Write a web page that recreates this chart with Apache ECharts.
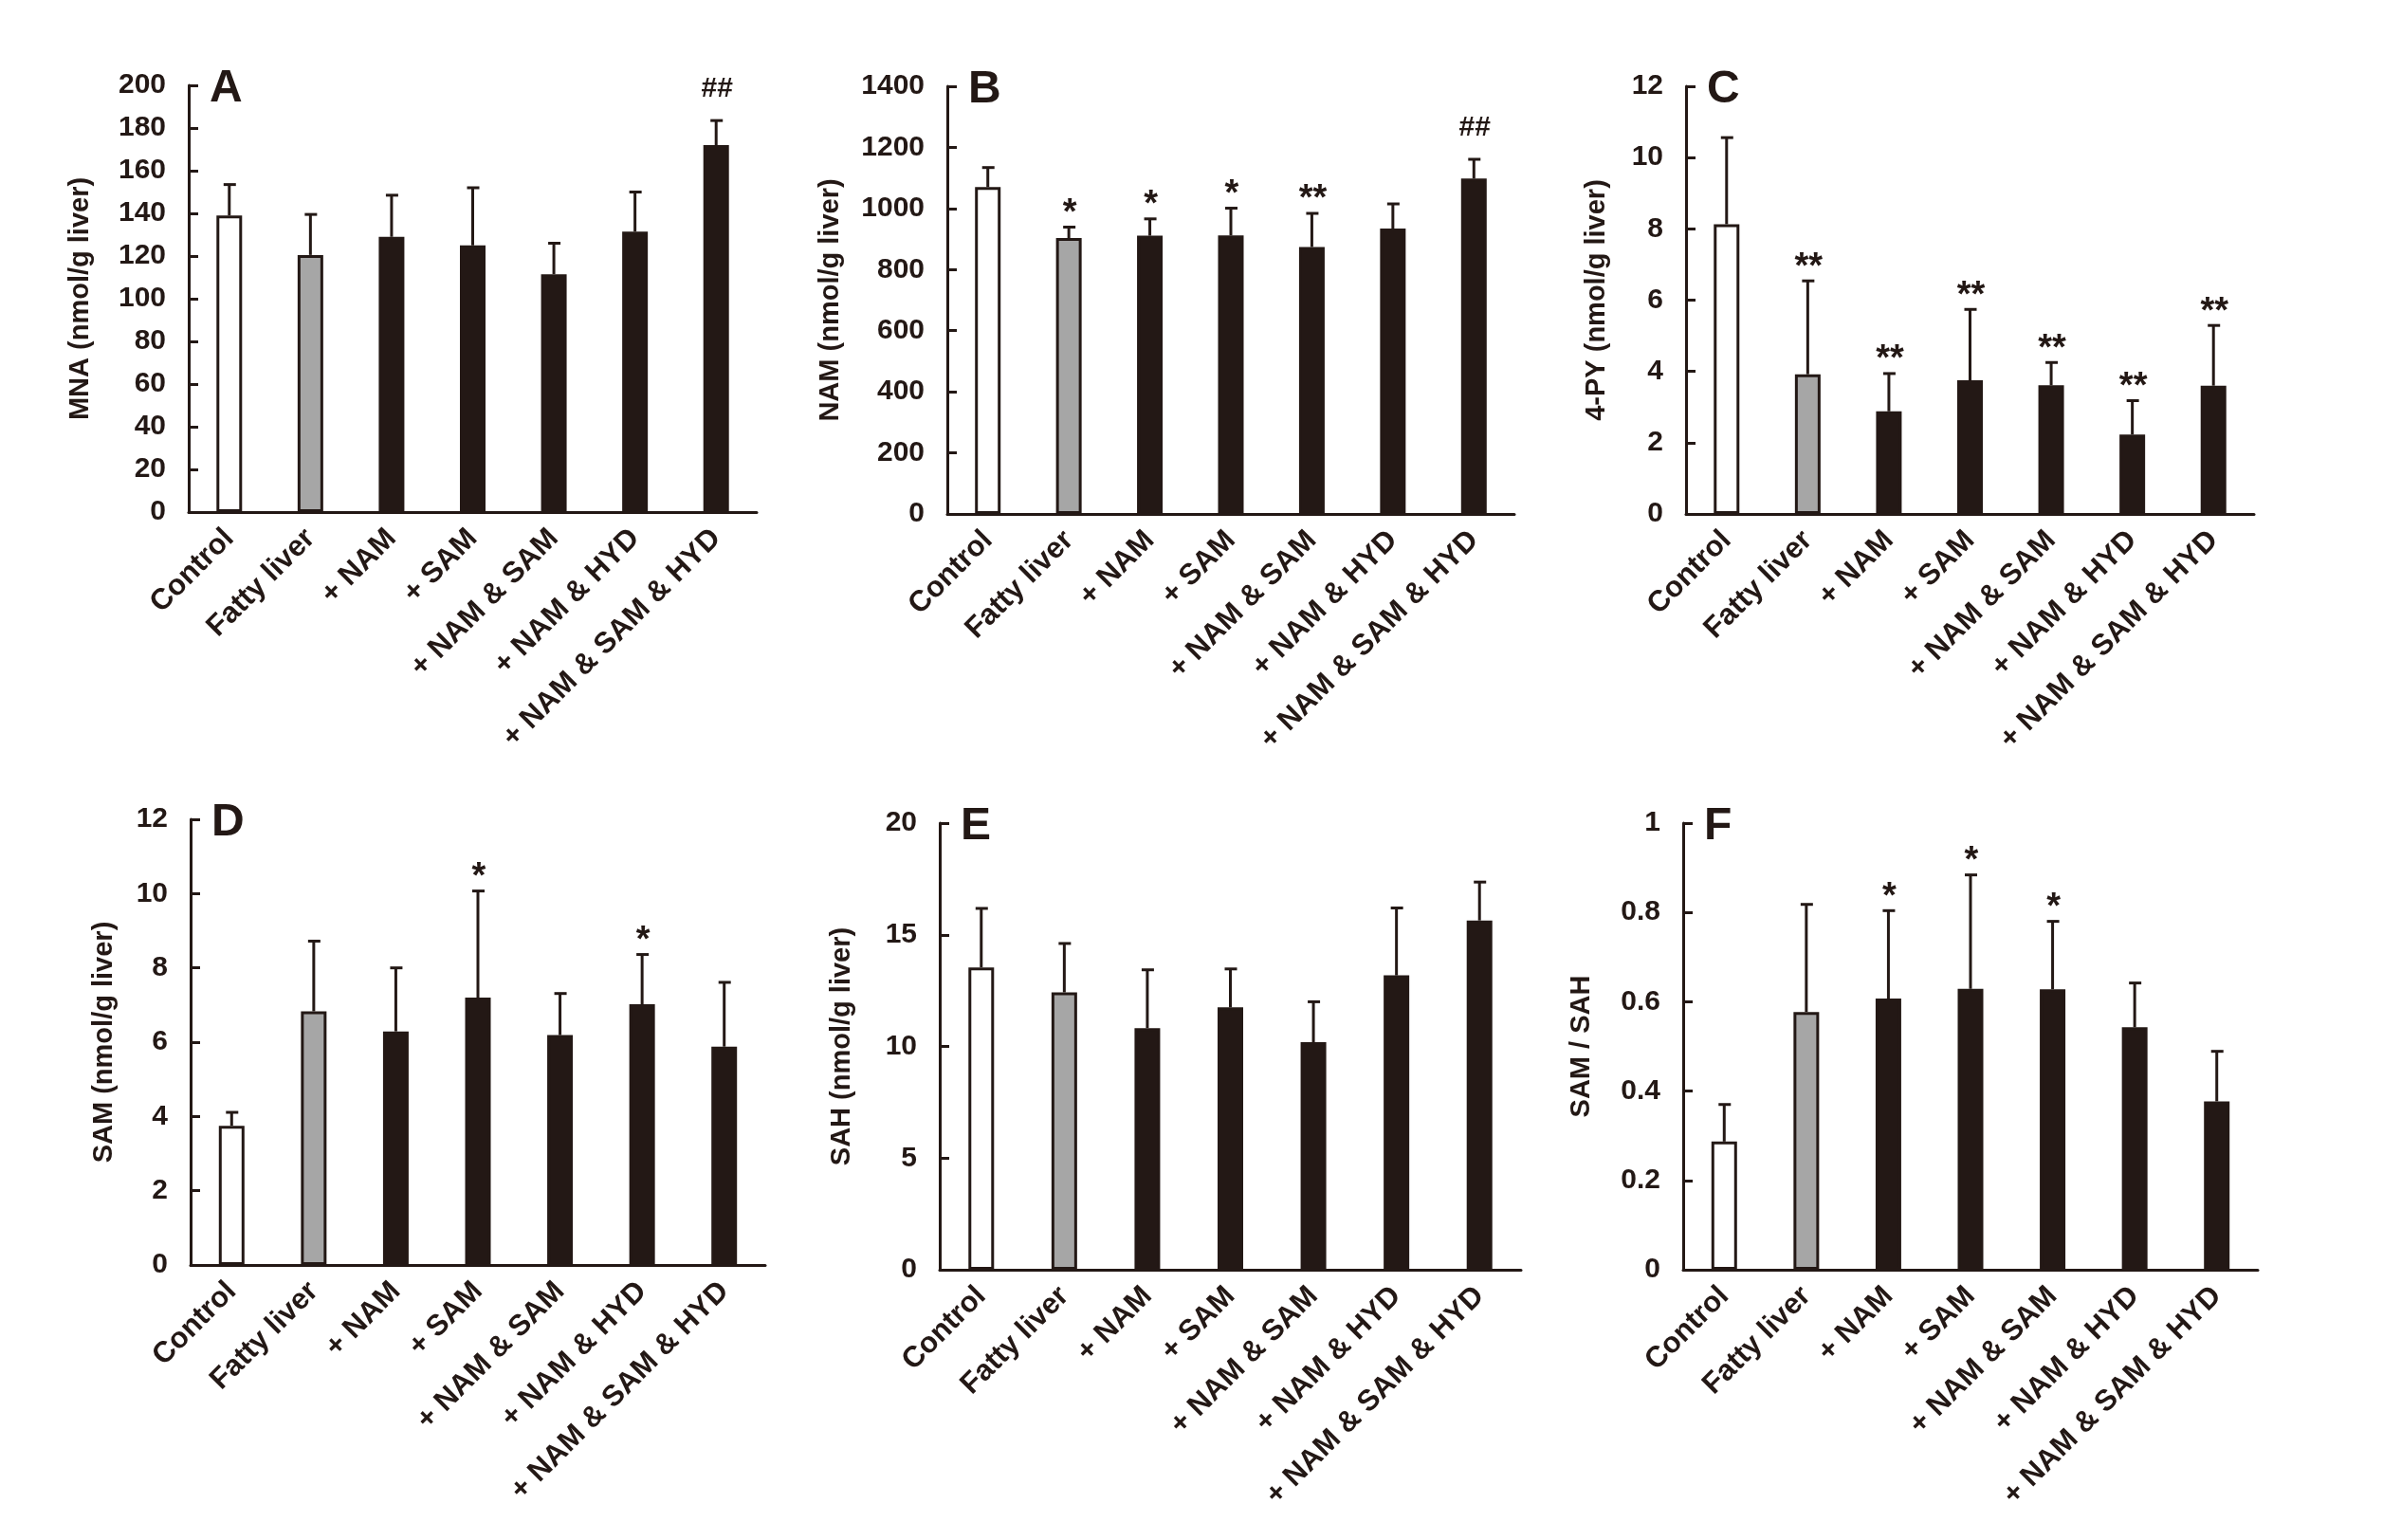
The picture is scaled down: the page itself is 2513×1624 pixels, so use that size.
<!DOCTYPE html>
<html>
<head>
<meta charset="utf-8">
<title>Liver metabolites</title>
<script src="https://cdn.jsdelivr.net/npm/echarts@6/dist/echarts.min.js"></script>
<style>
  html, body { margin: 0; padding: 0; background: #fff; }
  #main { width: 2513px; height: 1624px; }
</style>
</head>
<body>
<div id="main"></div>
<script>
// groups, shared by all six panels
const categories = ['Control', 'Fatty liver', '+ NAM', '+ SAM', '+ NAM & SAM', '+ NAM & HYD', '+ NAM & SAM & HYD'];
const barColors = ['#ffffff', '#a6a6a6', '#231815', '#231815', '#231815', '#231815', '#231815'];

// A - MNA
const mnaMean = [139, 120.5, 129, 125, 111.5, 131.5, 172];
const mnaSd = [14.5, 19, 19.5, 27, 14.5, 18.5, 11.5];
const mnaMarks = ['', '', '', '', '', '', '##'];

// B - NAM
const namMean = [1070, 903, 911, 912, 874, 934, 1098];
const namSd = [64, 36, 55, 89, 110, 81, 63];
const namMarks = ['', '*', '*', '*', '**', '', '##'];

// C - 4-PY
const pyMean = [8.13, 3.92, 2.88, 3.75, 3.61, 2.23, 3.6];
const pySd = [2.43, 2.62, 1.06, 1.99, 0.64, 0.95, 1.69];
const pyMarks = ['', '**', '**', '**', '**', '**', '**'];

// D - SAM
const samMean = [3.75, 6.83, 6.29, 7.2, 6.19, 7.02, 5.88];
const samSd = [0.36, 1.89, 1.71, 2.87, 1.12, 1.34, 1.73];
const samMarks = ['', '', '', '*', '', '*', ''];

// E - SAH
const sahMean = [13.54, 12.42, 10.82, 11.75, 10.19, 13.18, 15.64];
const sahSd = [2.64, 2.19, 2.61, 1.72, 1.81, 3.02, 1.72];
const sahMarks = ['', '', '', '', '', '', ''];

// F - SAM / SAH
const ratioMean = [0.287, 0.577, 0.607, 0.629, 0.628, 0.543, 0.377];
const ratioSd = [0.083, 0.241, 0.197, 0.255, 0.152, 0.099, 0.112];
const ratioMarks = ['', '', '*', '*', '*', '', ''];

const ink = '#231815';
const font = '"Liberation Sans", Arial, sans-serif';

const panels = [
  { letter: 'A', name: 'MNA (nmol/g liver)', max: 200, step: 20, mean: mnaMean, sd: mnaSd, marks: mnaMarks,
    grid: { left: 199, top: 90, width: 599, height: 450 }, gap: 100 },
  { letter: 'B', name: 'NAM (nmol/g liver)', max: 1400, step: 200, mean: namMean, sd: namSd, marks: namMarks,
    grid: { left: 999, top: 91, width: 598, height: 451 }, gap: 109 },
  { letter: 'C', name: '4-PY (nmol/g liver)', max: 12, step: 2, mean: pyMean, sd: pySd, marks: pyMarks,
    grid: { left: 1778, top: 91, width: 599, height: 451 }, gap: 80 },
  { letter: 'D', name: 'SAM (nmol/g liver)', max: 12, step: 2, mean: samMean, sd: samSd, marks: samMarks,
    grid: { left: 201, top: 864, width: 606, height: 470 }, gap: 77 },
  { letter: 'E', name: 'SAH (nmol/g liver)', max: 20, step: 5, mean: sahMean, sd: sahSd, marks: sahMarks,
    grid: { left: 991, top: 868, width: 613, height: 471 }, gap: 89 },
  { letter: 'F', name: 'SAM / SAH', max: 1, step: 0.2, mean: ratioMean, sd: ratioSd, marks: ratioMarks,
    grid: { left: 1775, top: 868, width: 606, height: 471 }, gap: 93 }
];

let grids = [], xAxes = [], yAxes = [], series = [], graphics = [];

panels.forEach((p, i) => {
  grids.push(Object.assign({ containLabel: false }, p.grid));

  xAxes.push({
    type: 'category', gridIndex: i, data: categories,
    axisLine: { lineStyle: { color: ink, width: 3 } },
    axisTick: { inside: true, length: 10, lineStyle: { color: ink, width: 3 } },
    axisLabel: { rotate: 45, margin: 23, color: ink, fontSize: 31, fontWeight: 'bold', fontFamily: font, interval: 0 }
  });

  yAxes.push({
    type: 'value', gridIndex: i, min: 0, max: p.max, interval: p.step,
    name: p.name, nameLocation: 'middle', nameGap: p.gap,
    nameTextStyle: { color: ink, fontSize: 29, fontWeight: 'bold', fontFamily: font },
    axisLine: { show: true, lineStyle: { color: ink, width: 3 } },
    axisTick: { show: true, inside: true, length: 10, lineStyle: { color: ink, width: 3 } },
    axisLabel: {
      margin: 24, color: ink, fontSize: 30, fontWeight: 'bold', fontFamily: font,
      formatter: v => String(Math.round(v * 1000) / 1000)
    },
    splitLine: { show: false }
  });

  series.push({
    type: 'bar', xAxisIndex: i, yAxisIndex: i, barWidth: 27,
    data: p.mean.map((v, k) => ({
      value: v,
      itemStyle: { color: barColors[k], borderColor: ink, borderWidth: 3 }
    }))
  });

  // upper error bar + significance mark
  series.push({
    type: 'custom', xAxisIndex: i, yAxisIndex: i, z: 3,
    data: p.mean.map((v, k) => [k, v, p.sd[k]]),
    renderItem: function (params, api) {
      const k = api.value(0);
      const m = api.value(1);
      const e = api.value(2);
      const base = api.coord([k, m]);
      const top = api.coord([k, m + e]);
      const style = { stroke: ink, lineWidth: 3 };
      const kids = [
        { type: 'line', shape: { x1: base[0], y1: base[1], x2: top[0], y2: top[1] }, style: style },
        { type: 'line', shape: { x1: top[0] - 6, y1: top[1], x2: top[0] + 7, y2: top[1] }, style: style }
      ];
      const mark = p.marks[params.dataIndex];
      if (mark) {
        const hash = mark.indexOf('#') >= 0;
        kids.push({
          type: 'text',
          style: {
            text: mark, x: top[0] + 1, y: top[1] - (hash ? 33 : 14),
            fill: ink, align: 'center', verticalAlign: 'middle',
            font: (hash ? 'bold 30px ' : 'bold 38px ') + font
          }
        });
      }
      return { type: 'group', children: kids };
    }
  });

  graphics.push({
    type: 'text', left: p.grid.left + 22, top: p.grid.top - 20,
    style: { text: p.letter, fill: ink, font: 'bold 48px ' + font }
  });
});

let myChart = echarts.init(document.getElementById('main'));
myChart.setOption({
  backgroundColor: '#ffffff',
  animation: false,
  grid: grids,
  xAxis: xAxes,
  yAxis: yAxes,
  series: series,
  graphic: graphics
});
</script>
</body>
</html>
